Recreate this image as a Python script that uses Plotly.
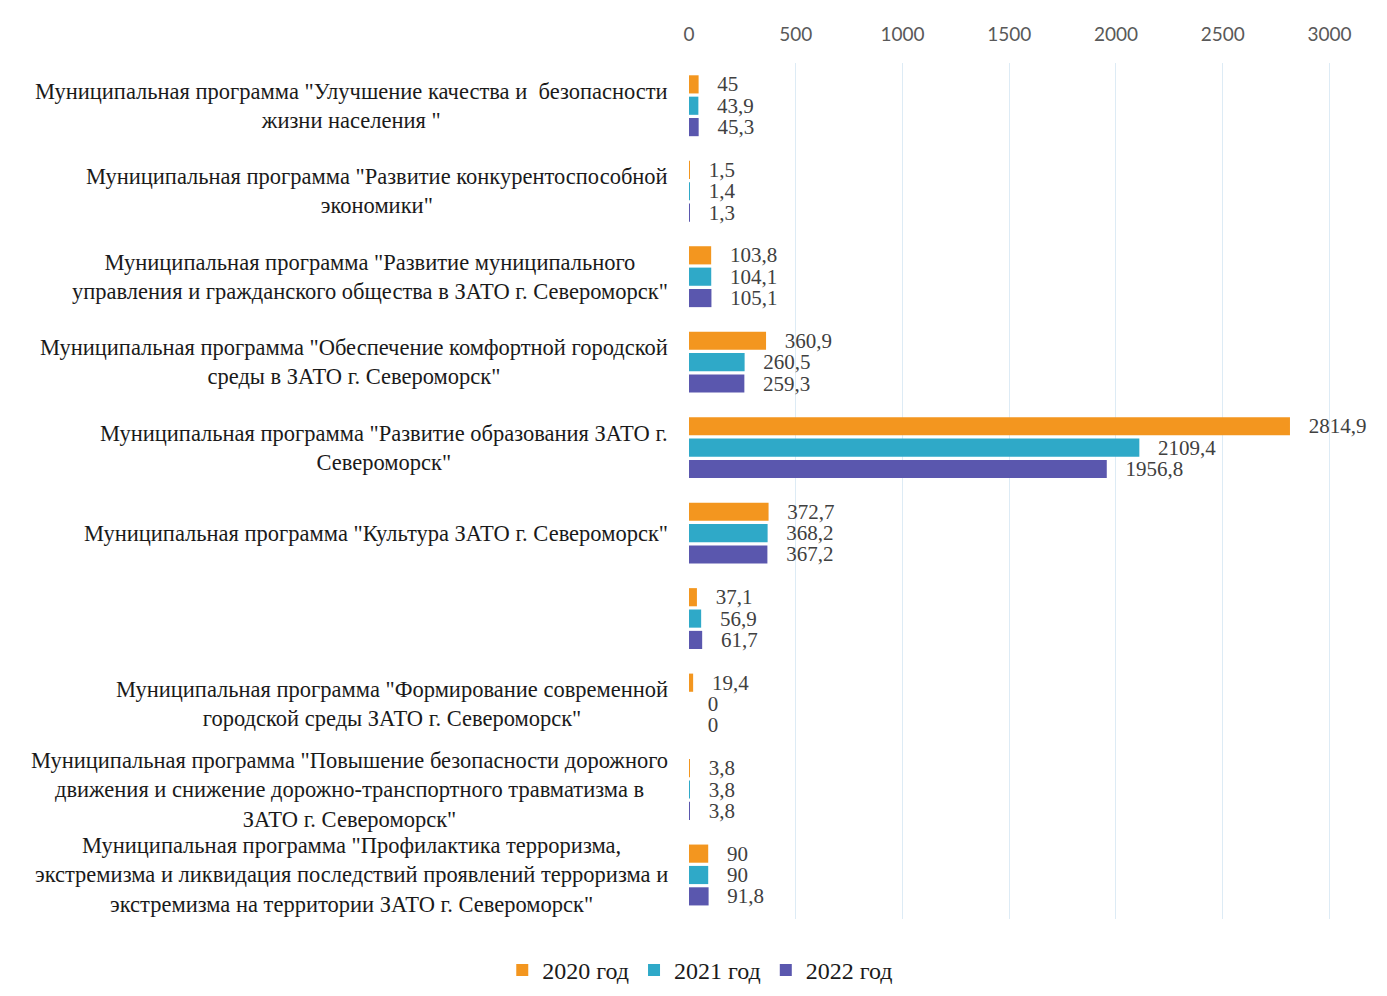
import plotly.graph_objects as go

programs = [
    'Муниципальная программа "Улучшение качества и  безопасности<br>жизни населения "',
    'Муниципальная программа "Развитие конкурентоспособной<br>экономики"',
    'Муниципальная программа "Развитие муниципального<br>управления и гражданского общества в ЗАТО г. Североморск"',
    'Муниципальная программа "Обеспечение комфортной городской<br>среды в ЗАТО г. Североморск"',
    'Муниципальная программа "Развитие образования ЗАТО г.<br>Североморск"',
    'Муниципальная программа "Культура ЗАТО г. Североморск"',
    ' ',
    'Муниципальная программа "Формирование современной<br>городской среды ЗАТО г. Североморск"',
    'Муниципальная программа "Повышение безопасности дорожного<br>движения и снижение дорожно-транспортного травматизма в<br>ЗАТО г. Североморск"',
    'Муниципальная программа "Профилактика терроризма,<br>экстремизма и ликвидация последствий проявлений терроризма и<br>экстремизма на территории ЗАТО г. Североморск"',
]

years = ["2020 год", "2021 год", "2022 год"]
values_2020 = [45, 1.5, 103.8, 360.9, 2814.9, 372.7, 37.1, 19.4, 3.8, 90]
values_2021 = [43.9, 1.4, 104.1, 260.5, 2109.4, 368.2, 56.9, 0, 3.8, 90]
values_2022 = [45.3, 1.3, 105.1, 259.3, 1956.8, 367.2, 61.7, 0, 3.8, 91.8]
colors = ["#F3961F", "#2FA9C8", "#5A57AE"]

SERIF = "Liberation Serif, Times New Roman, serif"


def fmt(v):
    return "\u00a0\u00a0\u00a0" + f"{v:g}".replace(".", ",")


fig = go.Figure()
for name, vals, c in zip(years, [values_2020, values_2021, values_2022], colors):
    fig.add_trace(go.Bar(
        y=programs, x=vals, name=name, orientation="h",
        marker=dict(color=c, line=dict(width=0)),
        text=[fmt(v) for v in vals],
        textposition="outside",
        constraintext="none",
        cliponaxis=False,
        textfont=dict(family=SERIF, size=21, color="#404040"),
    ))

for p in programs:
    if p.strip():
        fig.add_annotation(
            x=0, xref="paper", xshift=-19, xanchor="right",
            y=p, yref="y", yanchor="middle",
            text=p, align="center", showarrow=False,
            font=dict(family=SERIF, size=22.5, color="#1a1a1a"),
        )

# page body adds an 8px offset, so the figure is sized to the remaining window
fig.update_layout(
    width=1379, height=988,
    font=dict(family=SERIF, color="#1a1a1a"),
    margin=dict(l=681, r=2, t=55, b=77, autoexpand=False),
    paper_bgcolor="white", plot_bgcolor="white",
    barmode="group", bargap=0.25, bargroupgap=0.15,
    showlegend=True,
    legend=dict(
        orientation="h", xref="container", yref="container",
        x=0.502, xanchor="center", y=0.026, yanchor="middle",
        font=dict(family=SERIF, size=24, color="#1a1a1a"),
        itemwidth=30, traceorder="normal",
    ),
)
fig.update_xaxes(
    side="top", range=[0, 3260], tick0=0, dtick=500,
    showgrid=True, gridcolor="#DDEBF5", gridwidth=1,
    zeroline=False, showline=False, ticks="",
    tickfont=dict(family="Lato", size=19, color="#595959"),
    ticklabelstandoff=17, automargin=False,
)
fig.update_yaxes(
    autorange="reversed", showticklabels=False, showgrid=False,
    zeroline=False, showline=False, ticks="", automargin=False,
)

fig.write_html("out.html")
